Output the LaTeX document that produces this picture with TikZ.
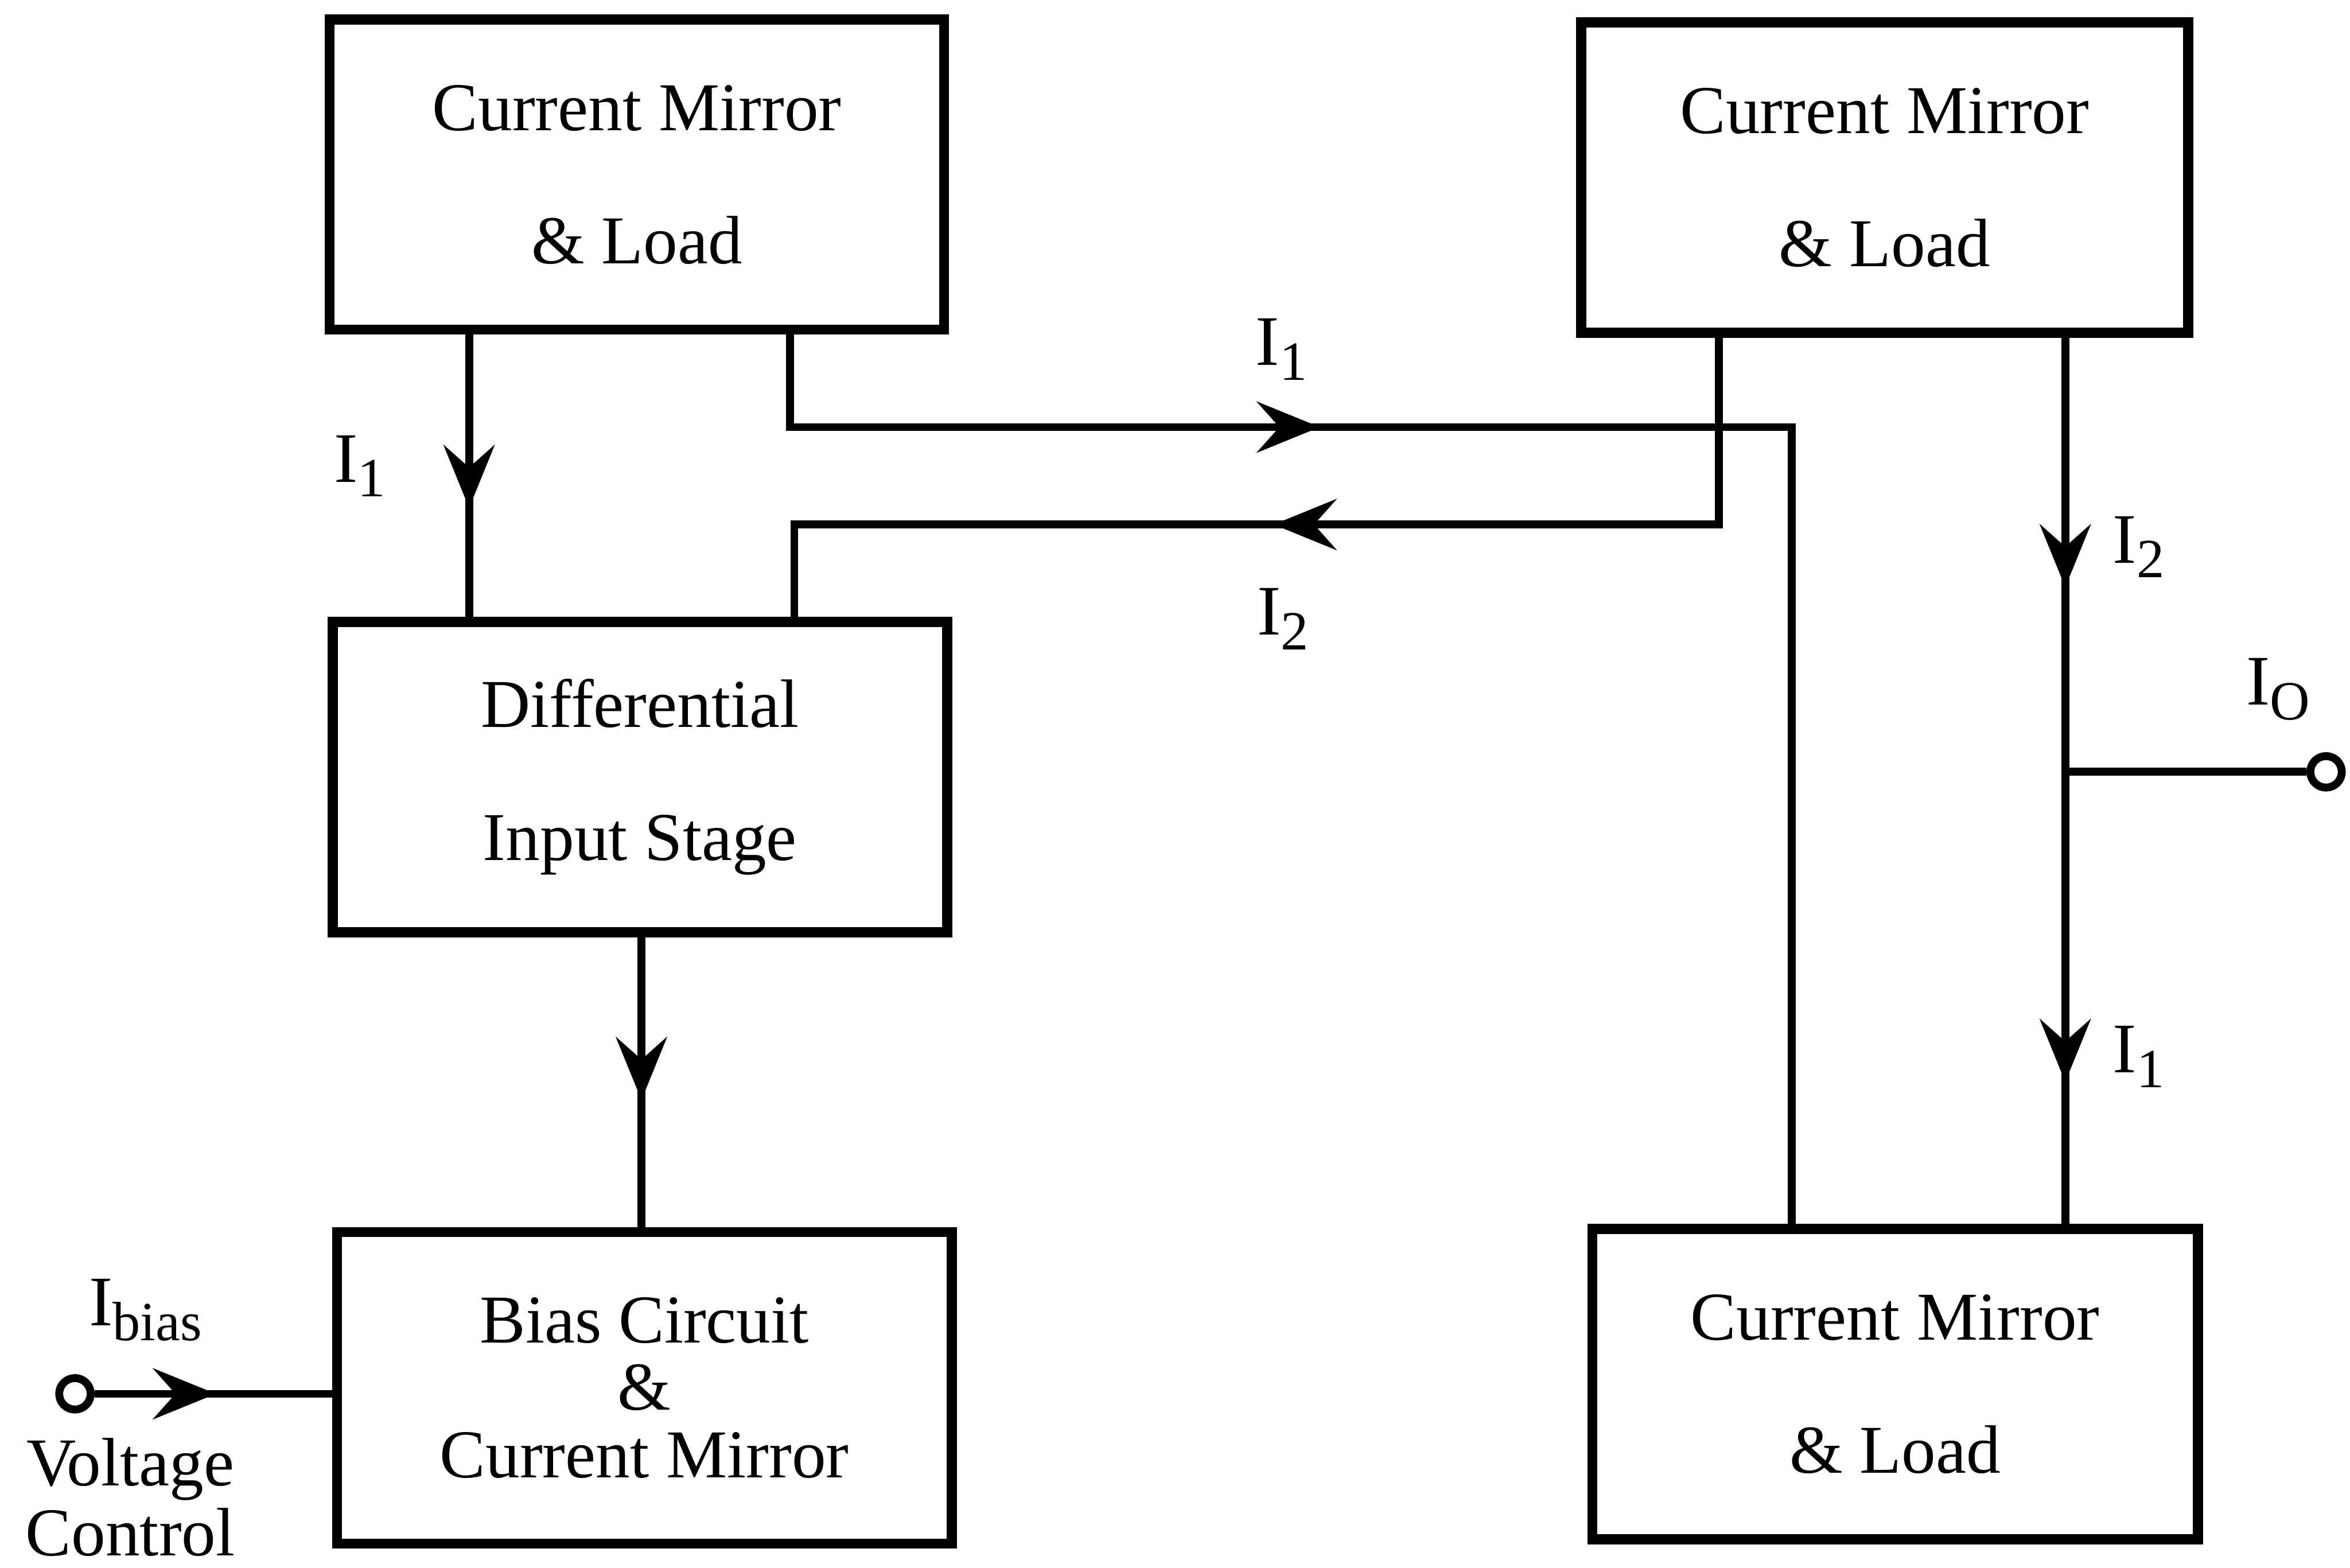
\documentclass[tikz,border=0pt]{standalone}
\usepackage{fontspec}
\setmainfont{Liberation Serif}
\usepackage{tikz}
\usetikzlibrary{arrows.meta,positioning,calc,decorations.markings}
\tikzset{
  block/.style={draw, line width=1.9pt, outer sep=0pt, minimum width=4.1cm, minimum height=2.07cm, inner sep=0pt, align=center, font=\fontsize{13}{25.3}\selectfont},
  wire/.style={line width=1.5pt},
  term/.style={draw, circle, line width=1.5pt, inner sep=0pt, minimum size=0.21cm},
  lab/.style={font=\fontsize{13.5}{14}\selectfont, inner sep=0pt},
  >={Stealth[length=4.2mm, width=3.4mm, inset=1.5mm]},
  midarrow/.style={postaction={decorate}, decoration={markings, mark=at position #1 with {\arrow{>}}}},
  twoarrows/.style 2 args={postaction={decorate}, decoration={markings, mark=at position #1 with {\arrow{>}}, mark=at position #2 with {\arrow{>}}}},
}
\newcommand{\cursub}[1]{\raisebox{-2.8pt}{\fontsize{10.5}{11}\selectfont #1}}

\begin{document}
\begin{tikzpicture}[x=1cm,y=1cm]
\useasboundingbox (0,0) rectangle (15.68,-10.46);
% blocks
\node[block] (mirrorA) at (4.25,-1.165) {Current Mirror\\\& Load};
\node[block, minimum width=4.05cm, right=4.25cm of mirrorA, yshift=-0.02cm] (mirrorB) {Current Mirror\\\& Load};
\node[block, below=1.95cm of mirrorA, xshift=0.02cm] (diffin) {Differential\\Input Stage};
\node[block, minimum height=2.08cm, below=2.0cm of diffin, xshift=0.03cm, font=\fontsize{13}{12.8}\selectfont] (bias) {Bias Circuit\\\&\\Current Mirror};
\node[block, minimum width=4.04cm, below=5.98cm of mirrorB, xshift=0.07cm] (mirrorC) {Current Mirror\\\& Load};

% terminals
\node[term] (ibias) at (0.50,-9.30) {};
\node[term] (iout) at (15.52,-5.15) {};

% tap points on the blocks
\coordinate (a1) at ([xshift=0.93cm]mirrorA.south west);
\coordinate (a2) at ([xshift=3.07cm]mirrorA.south west);
\coordinate (b1) at ([xshift=0.92cm]mirrorB.south west);
\coordinate (b2) at ([xshift=3.23cm]mirrorB.south west);
\coordinate (d1) at ([xshift=2.06cm]diffin.south west);
\coordinate (tap) at (b2 |- iout);

% currents
\draw[wire, midarrow=0.61] (a1) -- (a1 |- diffin.north);
\draw[wire, midarrow=0.33] (a2) -- ++(0,-0.65) -| ([xshift=1.33cm]mirrorC.north west);
\draw[wire, midarrow=0.525] (b1) -- ++(0,-1.28) -| ([xshift=3.08cm]diffin.north west);
\draw[wire, midarrow=0.56] (d1) -- (d1 |- bias.north);
\draw[wire, twoarrows={0.284}{0.836}] (b2) -- (b2 |- mirrorC.north);
\draw[wire] (tap) -- (iout);
\draw[wire, midarrow=0.5] (ibias) -- (ibias -| bias.west);

% labels
\node[lab] (lA) at (2.40,-3.11) {I\cursub{1}};
\node[lab] (lB) at (8.55,-2.33) {I\cursub{1}};
\node[lab] (lC) at (8.56,-4.13) {I\cursub{2}};
\node[lab] (lD) at (14.27,-3.65) {I\cursub{2}};
\node[lab] (lE) at (15.20,-4.60) {I\cursub{O}};
\node[lab] (lF) at (14.27,-7.05) {I\cursub{1}};
\node[lab] (lG) at (0.97,-8.74) {I\cursub{bias}};
\node[lab, align=center, font=\fontsize{13}{13.2}\selectfont] (lH) at (0.87,-9.99) {Voltage\\Control};
\end{tikzpicture}
\end{document}
